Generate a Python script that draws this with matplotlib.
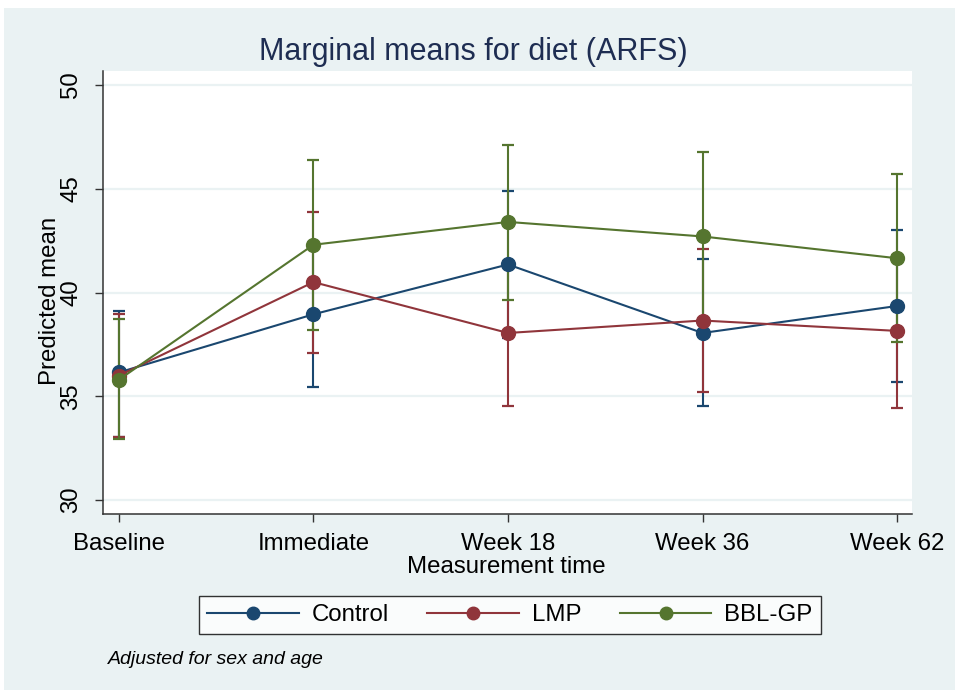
import numpy as np
import matplotlib.pyplot as plt
from matplotlib.patches import Rectangle

plt.rcParams['font.family'] = ['Liberation Sans', 'DejaVu Sans']

times = ["Baseline", "Immediate", "Week 18", "Week 36", "Week 62"]
groups = ["Control", "LMP", "BBL-GP"]

control_mean = [36.15, 38.95, 41.35, 38.05, 39.35]
control_lo = [33.05, 35.45, 37.8, 34.55, 35.7]
control_hi = [39.1, 42.4, 44.9, 41.6, 43.0]

lmp_mean = [36.0, 40.5, 38.05, 38.65, 38.15]
lmp_lo = [33.05, 37.1, 34.55, 35.2, 34.45]
lmp_hi = [38.95, 43.9, 41.5, 42.1, 41.8]

bbl_mean = [35.8, 42.3, 43.4, 42.7, 41.65]
bbl_lo = [32.95, 38.2, 39.65, 38.65, 37.6]
bbl_hi = [38.7, 46.4, 47.1, 46.75, 45.7]

colors = ["#1a476f", "#90353b", "#55752f"]
bg = "#eaf2f3"

fig = plt.figure(figsize=(9.6, 6.91), dpi=100)
fig.patch.set_facecolor("white")
fig.patches.append(Rectangle((4 / 960, 1 - 690 / 691), 951 / 960, 682 / 691,
                             transform=fig.transFigure, facecolor=bg,
                             edgecolor="none", zorder=-10))

ax = fig.add_axes([103 / 960, 1 - 514 / 691, 809 / 960, 443 / 691])
ax.set_facecolor("white")

x = np.arange(len(times))
means = [control_mean, lmp_mean, bbl_mean]
los = [control_lo, lmp_lo, bbl_lo]
his = [control_hi, lmp_hi, bbl_hi]

# confidence intervals first, then the connected means
for i in range(3):
    m = np.array(means[i])
    lo = np.array(los[i])
    hi = np.array(his[i])
    ax.errorbar(x, m, yerr=[m - lo, hi - m], fmt="none", ecolor=colors[i],
                elinewidth=1.5, capsize=4.6, capthick=1.6, zorder=2 + i)

handles = []
for i in range(3):
    h, = ax.plot(x, means[i], color=colors[i], lw=1.5, marker="o",
                 markersize=10, markerfacecolor=colors[i],
                 markeredgecolor=colors[i], label=groups[i], zorder=6 + i)
    handles.append(h)

ax.set_xlim(-0.082, 4.077)
ax.set_ylim(29.33, 50.67)
ax.set_xticks(x)
ax.set_xticklabels(times)
ax.set_yticks([30, 35, 40, 45, 50])
ax.set_yticklabels(["30", "35", "40", "45", "50"], rotation=90, va="center")
ax.tick_params(axis="both", labelsize=17.3, length=6, width=1, color="#333333")
ax.tick_params(axis="y", pad=9)
ax.tick_params(axis="x", pad=8)
ax.grid(axis="y", color=bg, lw=1.6, zorder=0)
ax.set_axisbelow(True)
for s in ["top", "right"]:
    ax.spines[s].set_visible(False)
for s in ["left", "bottom"]:
    ax.spines[s].set_color("#333333")
    ax.spines[s].set_linewidth(1.1)

fig.text(473 / 960, 1 - 52 / 691, "Marginal means for diet (ARFS)", fontsize=22,
         color="#1e2d52", ha="center", va="center")
fig.text(50 / 960, 1 - 301 / 691, "Predicted mean", fontsize=17.3,
         rotation=90, ha="center", va="center")
fig.text(506 / 960, 1 - 567 / 691, "Measurement time", fontsize=17.3,
         ha="center", va="center")
fig.text(108 / 960, 1 - 660 / 691, "Adjusted for sex and age", fontsize=14,
         style="italic", ha="left", va="center")

leg = fig.legend(handles=handles, loc="center", ncol=3,
                 bbox_to_anchor=(510 / 960, 1 - 615 / 691), fontsize=17.3,
                 frameon=True, fancybox=False, edgecolor="black",
                 handlelength=3.8, handletextpad=0.55, columnspacing=1.6,
                 borderpad=0.35)
leg.get_frame().set_linewidth(1.0)
leg.get_frame().set_facecolor("white")
for lh in leg.legend_handles:
    lh.set_markersize(9)

fig.savefig("out.png", dpi=100)
